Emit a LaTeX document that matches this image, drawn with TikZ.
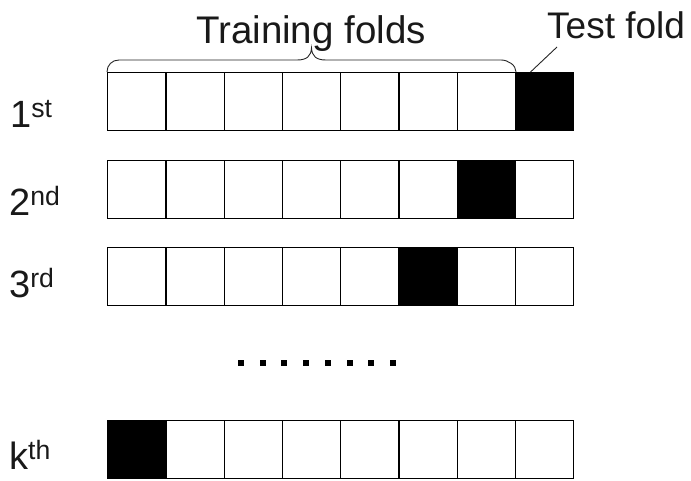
\documentclass[tikz,border=0pt]{standalone}
\usepackage{fontspec}
\setmainfont{Liberation Sans}
\begin{document}
\begin{tikzpicture}[x=1pt,y=-1pt,
  fold/.style={draw=black,line width=1.3pt,minimum width=58.25pt,minimum height=58pt,inner sep=0pt,fill=white,anchor=north west},
  testfold/.style={fold,fill=black},
  rowlabel/.style={anchor=base west,inner sep=0pt,font=\fontsize{38}{40}\selectfont,text=black!90},
  toplabel/.style={anchor=base,inner sep=0pt,font=\fontsize{38.5}{40}\selectfont,text=black!90},
  thin/.style={line width=0.9pt,black!85},
  dotsq/.style={fill=black,minimum size=6pt,inner sep=0pt}]
\useasboundingbox (0,0) rectangle (691,480);
% rows
\foreach \r/\y/\t in {1/72/8,2/159.5/7,3/247/6,4/420/1}{
  \foreach \c in {1,...,8}{
    \pgfmathsetmacro\xx{107+(\c-1)*58.25}
    \ifnum\c=\t
      \node[testfold] (r\r c\c) at (\xx,\y) {};
    \else
      \node[fold] (r\r c\c) at (\xx,\y) {};
    \fi
  }
}
% row labels
\node[rowlabel] (l1) at (10,127) {1\textsuperscript{st}};
\node[rowlabel] (l2) at (9,215) {2\textsuperscript{nd}};
\node[rowlabel] (l3) at (9,297) {3\textsuperscript{rd}};
\node[rowlabel] (l4) at (9,469) {k\textsuperscript{th}};
% brace
\draw[thin] (r1c1.north west) .. controls +(0,-7) and +(-7,0) .. ++(12,-12)
  -- (297,60) .. controls (307,60) and (311,56) .. (311.5,48)
  .. controls (312,56) and (316,60) .. (326,60)
  -- (501,60) .. controls +(7,0) and +(0,-7) .. (r1c7.north east);
\node[toplabel] (train) at (311,43) {Training folds};
\node[toplabel,anchor=base west,font=\fontsize{37}{40}\selectfont] (test) at (547,38) {Test fold};
\coordinate (lead) at (557,47);
\draw[thin] (lead) -- ([xshift=-14pt]r1c8.north);
% dots
\foreach \i in {0,...,7}{
  \node[dotsq] (d\i) at (241+\i*21.7,363) {};
}
\end{tikzpicture}
\end{document}
